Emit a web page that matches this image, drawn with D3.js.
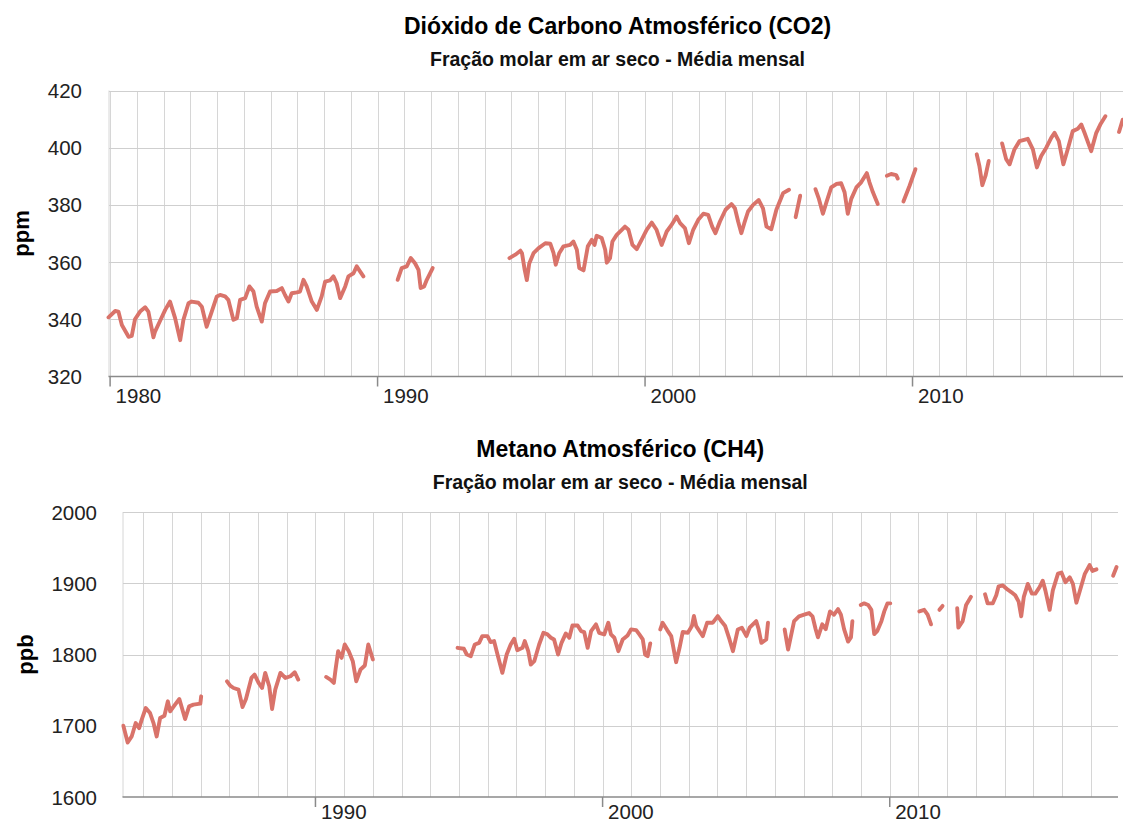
<!DOCTYPE html>
<html lang="pt">
<head>
    <meta charset="UTF-8">
    <title>CO2 e CH4 atmosféricos</title>
    <style>
        body { margin: 0; background: #fff; overflow: hidden; }
        svg text { font-family: "Liberation Sans", Arial, sans-serif; }
        .grid line { stroke: #d6d6d6; stroke-width: 1px; shape-rendering: crispEdges; }
        .hgrid line { stroke: #cfcfcf; stroke-width: 1px; shape-rendering: crispEdges; }
        .baseline { stroke: #8a8a8a; stroke-width: 1.5px; }
        .tick-label { font-size: 20.5px; fill: #222; }
        .title { font-size: 23px; font-weight: bold; fill: #000; }
        .subtitle { font-size: 19.5px; font-weight: bold; fill: #111; }
        .axis-title { font-size: 22px; font-weight: bold; fill: #000; }
        .series { fill: none; stroke: #d9736a; stroke-width: 3.9px; stroke-linejoin: round; stroke-linecap: round; }
    </style>
</head>
<body>
    <div id="chart"></div>

    <script src="https://d3js.org/d3.v7.min.js"></script>
    <script>
        // CO2 (ppm) - trechos mensais, [ano, valor]
        const co2Segments = [
            [[1979.94,340.7],[1980.19,342.9],[1980.31,342.7],[1980.44,338.0],[1980.69,333.9],[1980.81,334.2],[1980.93,340.0],[1981.12,342.7],[1981.31,344.2],[1981.43,342.7],[1981.62,333.7],[1981.68,335.7],[1981.87,339.5],[1982.06,343.3],[1982.24,346.2],[1982.43,340.4],[1982.62,332.7],[1982.74,339.8],[1982.93,345.6],[1983.05,346.2],[1983.30,345.8],[1983.43,344.4],[1983.61,337.4],[1983.80,342.7],[1983.99,348.0],[1984.11,348.5],[1984.30,348.0],[1984.42,346.8],[1984.61,339.8],[1984.74,340.4],[1984.86,346.8],[1985.05,347.4],[1985.21,351.5],[1985.36,349.7],[1985.48,344.4],[1985.67,339.2],[1985.79,345.6],[1985.98,349.7],[1986.23,349.9],[1986.42,350.9],[1986.54,348.5],[1986.67,346.2],[1986.79,349.1],[1986.98,349.4],[1987.10,349.7],[1987.23,353.8],[1987.35,351.5],[1987.54,346.2],[1987.73,343.3],[1987.91,348.0],[1988.04,353.2],[1988.22,353.6],[1988.35,355.0],[1988.47,352.6],[1988.60,347.4],[1988.79,351.5],[1988.91,355.0],[1989.10,356.1],[1989.22,358.5],[1989.35,356.7],[1989.47,355.0]],
            [[1990.75,353.8],[1990.90,357.9],[1991.09,358.5],[1991.24,361.4],[1991.40,359.6],[1991.53,357.3],[1991.61,350.9],[1991.74,351.5],[1991.84,353.8],[1992.06,357.9]],
            [[1994.93,361.4],[1995.15,362.6],[1995.34,364.0],[1995.40,363.1],[1995.50,357.3],[1995.58,353.7],[1995.67,359.5],[1995.83,363.1],[1996.02,364.9],[1996.27,366.6],[1996.46,366.4],[1996.58,363.1],[1996.66,359.1],[1996.79,363.1],[1996.95,365.5],[1997.20,366.0],[1997.32,367.2],[1997.45,364.3],[1997.54,357.9],[1997.70,357.1],[1997.86,365.5],[1998.01,367.8],[1998.11,366.0],[1998.19,369.2],[1998.38,368.4],[1998.51,364.3],[1998.57,359.8],[1998.69,361.4],[1998.78,367.2],[1998.94,369.5],[1999.13,371.3],[1999.25,372.4],[1999.38,371.3],[1999.53,366.0],[1999.69,364.5],[1999.87,367.8],[2000.06,371.3],[2000.25,373.8],[2000.43,371.3],[2000.62,366.0],[2000.81,370.7],[2000.99,373.0],[2001.18,375.9],[2001.31,373.6],[2001.49,371.9],[2001.64,366.6],[2001.80,371.3],[2001.99,374.8],[2002.18,376.9],[2002.36,376.5],[2002.51,372.4],[2002.63,370.1],[2002.80,374.2],[2003.01,378.3],[2003.23,380.3],[2003.36,378.8],[2003.48,374.2],[2003.60,370.1],[2003.71,373.6],[2003.85,377.7],[2004.04,380.0],[2004.25,381.7],[2004.41,378.8],[2004.54,372.4],[2004.72,371.5],[2004.91,378.3],[2005.16,384.1],[2005.38,385.3]],
            [[2005.63,375.7],[2005.80,383.2]],
            [[2006.37,385.5],[2006.50,382.1],[2006.65,376.9],[2006.78,380.9],[2006.96,386.1],[2007.15,387.3],[2007.33,387.6],[2007.46,384.4],[2007.58,376.9],[2007.71,382.1],[2007.90,386.1],[2008.08,387.9],[2008.29,391.1],[2008.39,387.9],[2008.52,384.4],[2008.70,380.3]],
            [[2009.04,390.2],[2009.20,390.8],[2009.39,390.4],[2009.45,389.2]],
            [[2009.66,381.2],[2009.89,386.7],[2010.11,392.5]],
            [[2012.40,397.7],[2012.50,393.6],[2012.61,386.9],[2012.73,390.2],[2012.85,395.4]],
            [[2013.35,401.5],[2013.50,396.0],[2013.63,394.2],[2013.81,399.4],[2014.00,402.3],[2014.31,403.1],[2014.50,399.4],[2014.65,393.1],[2014.81,397.1],[2015.00,400.0],[2015.19,403.5],[2015.31,405.2],[2015.47,402.3],[2015.64,394.2],[2015.80,399.4],[2015.99,405.8],[2016.18,406.6],[2016.31,408.1],[2016.43,405.2],[2016.68,398.8],[2016.87,405.2],[2017.02,408.1],[2017.21,411.0]],
            [[2017.72,405.5],[2017.86,409.8]]
        ];

        // CH4 (ppb)
        const ch4Segments = [
            [[1983.31,1700],[1983.46,1676.5],[1983.60,1685],[1983.74,1703.8],[1983.86,1696.7],[1983.95,1708.5],[1984.09,1724.9],[1984.24,1717.8],[1984.36,1703.8],[1984.47,1685],[1984.59,1710.8],[1984.74,1714.1],[1984.86,1734.3],[1984.94,1720.2],[1985.11,1729.6],[1985.26,1737.6],[1985.35,1724.9],[1985.46,1709.4],[1985.60,1727.2],[1985.75,1729.6],[1985.99,1731],[1986.02,1741.3]],
            [[1986.92,1762.4],[1987.03,1756.3],[1987.15,1753],[1987.32,1750.7],[1987.46,1726.3],[1987.58,1737.6],[1987.77,1767.1],[1987.88,1771.8],[1988.02,1760.1],[1988.14,1753],[1988.25,1774.2],[1988.39,1755.4],[1988.49,1723.5],[1988.60,1750.7],[1988.78,1774.2],[1988.95,1767.1],[1989.13,1769.5],[1989.28,1775.1],[1989.40,1764.8]],
            [[1990.37,1768.5],[1990.52,1764.8],[1990.64,1760.1],[1990.70,1778.9],[1990.79,1804.7],[1990.91,1795.3],[1991.02,1814.1],[1991.16,1804.7],[1991.30,1790.6],[1991.42,1762.4],[1991.57,1778.9],[1991.72,1784.5],[1991.84,1814.1],[1992.00,1793]],
            [[1994.95,1809.4],[1995.17,1808],[1995.27,1800],[1995.41,1797.7],[1995.55,1814.1],[1995.70,1816.4],[1995.81,1825.8],[1995.99,1825.8],[1996.10,1817.4],[1996.22,1818.8],[1996.34,1800],[1996.51,1774.2],[1996.66,1800],[1996.80,1814.1],[1996.92,1822.1],[1997.03,1806.1],[1997.21,1809.4],[1997.29,1818.8],[1997.41,1804.7],[1997.50,1785.9],[1997.62,1790.6],[1997.79,1814.1],[1997.94,1830.5],[1998.08,1828.2],[1998.20,1823.5],[1998.31,1821.1],[1998.45,1800],[1998.57,1816.4],[1998.72,1829.6],[1998.84,1823.5],[1998.95,1840.8],[1999.13,1840.8],[1999.25,1832.9],[1999.36,1831.5],[1999.48,1809.4],[1999.60,1832.9],[1999.77,1842.3],[1999.88,1830.5],[2000.06,1828.2],[2000.20,1844.6],[2000.29,1828.2],[2000.41,1823.5],[2000.55,1804.7],[2000.70,1821.1],[2000.87,1826.8],[2000.99,1835.2],[2001.17,1834.3],[2001.28,1828.2],[2001.40,1821.1],[2001.48,1800],[2001.57,1797.7],[2001.66,1815.5]],
            [[2002.01,1835.2],[2002.09,1844.6],[2002.25,1834.3],[2002.39,1825.8],[2002.56,1789.2],[2002.68,1809.4],[2002.79,1831.5],[2002.97,1830.5],[2003.11,1839.9],[2003.18,1854],[2003.26,1839.9],[2003.41,1830.5],[2003.49,1825.8],[2003.64,1844.6],[2003.84,1844.6],[2004.01,1854],[2004.13,1846.9],[2004.27,1839.9],[2004.42,1821.1],[2004.54,1804.7],[2004.71,1835.2],[2004.85,1837.6],[2005.01,1825.8],[2005.12,1837.6],[2005.35,1846.9],[2005.43,1836.2],[2005.53,1816.4],[2005.70,1821.1],[2005.76,1844.6]],
            [[2006.34,1835.2],[2006.46,1807],[2006.67,1846.8],[2006.84,1853.6],[2007.02,1855.9],[2007.19,1858.2],[2007.31,1853.6],[2007.42,1835.5],[2007.50,1824.1],[2007.65,1842.3],[2007.77,1835.5],[2007.92,1860.5],[2008.06,1855.9],[2008.20,1863.6],[2008.30,1855.9],[2008.41,1835.5],[2008.55,1818.2],[2008.65,1824.1],[2008.70,1846.8]],
            [[2008.99,1869.5],[2009.11,1871.8],[2009.25,1869.5],[2009.36,1862.7],[2009.46,1828.6],[2009.57,1833.2],[2009.71,1846.8],[2009.81,1860.5],[2009.92,1871.8],[2010.02,1871.8]],
            [[2011.03,1860.5],[2011.20,1862.7],[2011.32,1855.9],[2011.44,1842.3]],
            [[2011.73,1862.7],[2011.84,1868.2]],
            [[2012.35,1865],[2012.39,1837.7],[2012.54,1846.8],[2012.66,1869.5],[2012.83,1880.9]],
            [[2013.32,1884.5],[2013.41,1871.8],[2013.59,1871.8],[2013.71,1883.2],[2013.79,1895.5],[2013.94,1896.8],[2014.11,1890.9],[2014.23,1887.7],[2014.37,1883.2],[2014.49,1874.1],[2014.58,1853.6],[2014.67,1880.9],[2014.81,1899.1],[2014.95,1885.5],[2015.07,1885.5],[2015.22,1894.5],[2015.33,1903.6],[2015.42,1890],[2015.57,1862.7],[2015.68,1890],[2015.86,1913.6],[2015.98,1915],[2016.12,1901.4],[2016.27,1908.2],[2016.38,1899.1],[2016.50,1872.7],[2016.61,1887.7],[2016.79,1912.7],[2016.96,1925.5],[2017.06,1917.3],[2017.20,1919.5]],
            [[2017.78,1910.5],[2017.90,1922.7]]
        ];

        const co2Ticks = [320, 340, 360, 380, 400, 420];
        const ch4Ticks = [1600, 1700, 1800, 1900, 2000];
        const co2Decades = [1980, 1990, 2000, 2010];
        const ch4Decades = [1990, 2000, 2010];

        const width = 1123;
        const height = 823;

        const svg = d3.select("#chart")
            .append("svg")
            .attr("width", width)
            .attr("height", height);

        function drawChart(cfg) {
            const g = svg.append("g");
            const x = d3.scaleLinear().domain(cfg.xDomain).range([cfg.left, cfg.right]);
            const y = d3.scaleLinear().domain(cfg.yDomain).range([cfg.bottom, cfg.top]);

            const clipId = "clip-" + cfg.id;
            svg.append("clipPath").attr("id", clipId)
                .append("rect")
                .attr("x", cfg.left - 3).attr("y", cfg.top - 3)
                .attr("width", cfg.right - cfg.left + 6)
                .attr("height", cfg.bottom - cfg.top + 6);

            // linhas de grade verticais (anos)
            const years = d3.range(Math.ceil(cfg.xDomain[0]), Math.floor(cfg.xDomain[1]) + 1);
            g.append("g").attr("class", "grid")
                .selectAll("line")
                .data(years)
                .enter().append("line")
                .attr("x1", d => Math.round(x(d)) + 0.5)
                .attr("x2", d => Math.round(x(d)) + 0.5)
                .attr("y1", cfg.top)
                .attr("y2", cfg.bottom);

            // left edge line
            g.append("line")
                .attr("x1", cfg.left + 0.5).attr("x2", cfg.left + 0.5)
                .attr("y1", cfg.top).attr("y2", cfg.bottom)
                .attr("stroke", "#d6d6d6");

            // linhas horizontais
            g.append("g").attr("class", "hgrid")
                .selectAll("line")
                .data(cfg.yTicks.slice(1))
                .enter().append("line")
                .attr("x1", cfg.left)
                .attr("x2", cfg.right)
                .attr("y1", d => Math.round(y(d)) + 0.5)
                .attr("y2", d => Math.round(y(d)) + 0.5);

            // baseline + decade ticks
            g.append("line")
                .attr("class", "baseline")
                .attr("x1", cfg.left).attr("x2", cfg.right)
                .attr("y1", y(cfg.yDomain[0])).attr("y2", y(cfg.yDomain[0]));

            g.selectAll(".dtick")
                .data(cfg.decades)
                .enter().append("line")
                .attr("class", "dtick")
                .attr("x1", d => x(d)).attr("x2", d => x(d))
                .attr("y1", y(cfg.yDomain[0]))
                .attr("y2", y(cfg.yDomain[0]) + 10)
                .attr("stroke", "#8a8a8a")
                .attr("stroke-width", 1.5);

            g.selectAll(".xlabel")
                .data(cfg.decades)
                .enter().append("text")
                .attr("class", "tick-label")
                .attr("x", d => x(d) + 5.5)
                .attr("y", cfg.xLabelY)
                .text(d => d);

            g.selectAll(".ylabel")
                .data(cfg.yTicks)
                .enter().append("text")
                .attr("class", "tick-label")
                .attr("text-anchor", "end")
                .attr("x", cfg.yLabelX)
                .attr("y", d => y(d) + 7.5)
                .text(d => d);

            // títulos
            const cx = (cfg.left + cfg.right) / 2;
            g.append("text").attr("class", "title")
                .attr("x", cx).attr("y", cfg.titleY)
                .attr("text-anchor", "middle")
                .text(cfg.title);
            g.append("text").attr("class", "subtitle")
                .attr("x", cx).attr("y", cfg.titleY + 32)
                .attr("text-anchor", "middle")
                .text("Fração molar em ar seco - Média mensal");

            g.append("text").attr("class", "axis-title")
                .attr("transform", `translate(${cfg.axisTitleX},${(cfg.top + cfg.bottom) / 2}) rotate(-90)`)
                .attr("text-anchor", "middle")
                .text(cfg.unit);

            const line = d3.line()
                .x(d => x(d[0]))
                .y(d => y(d[1]));

            g.append("g")
                .attr("clip-path", `url(#${clipId})`)
                .selectAll("path")
                .data(cfg.segments)
                .enter().append("path")
                .attr("class", "series")
                .attr("d", line);
        }

        drawChart({
            id: "co2",
            segments: co2Segments,
            xDomain: [1979.94, 2018.0],
            yDomain: [320, 420],
            yTicks: co2Ticks,
            decades: co2Decades,
            left: 108.5, right: 1126.5, top: 90.5, bottom: 376.5,
            xLabelY: 403, yLabelX: 82, axisTitleX: 29,
            titleY: 34,
            title: "Dióxido de Carbono Atmosférico (CO2)",
            unit: "ppm"
        });

        drawChart({
            id: "ch4",
            segments: ch4Segments,
            xDomain: [1983.28, 2017.95],
            yDomain: [1600, 2000],
            yTicks: ch4Ticks,
            decades: ch4Decades,
            left: 122.5, right: 1118, top: 512, bottom: 797,
            xLabelY: 818.5, yLabelX: 97, axisTitleX: 33,
            titleY: 456.5,
            title: "Metano Atmosférico (CH4)",
            unit: "ppb"
        });
    </script>
</body>
</html>
